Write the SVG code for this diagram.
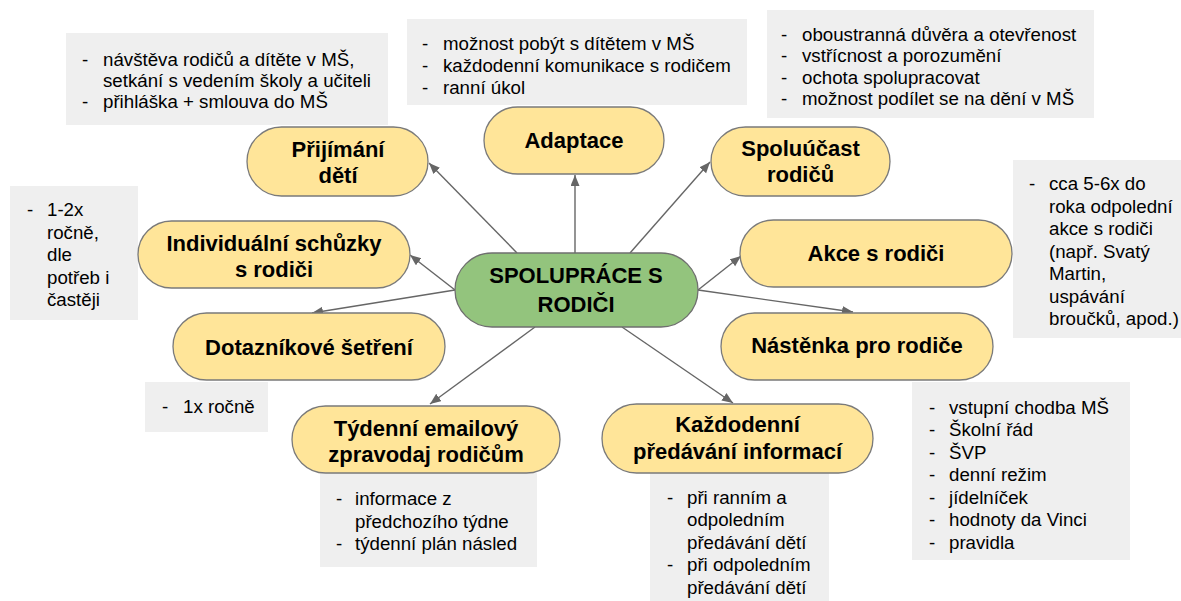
<svg xmlns="http://www.w3.org/2000/svg" width="1181" height="601" viewBox="0 0 1181 601">
<style>
.box{fill:#efefef;stroke:none}
.bt{font-family:"Liberation Sans",Arial,sans-serif;font-size:18.7px;fill:#000}
.node{fill:#ffe599;stroke:#7a7a7a;stroke-width:1.3}
.center{fill:#93c47d;stroke:#6f6f6f;stroke-width:1.3}
.nt{font-family:"Liberation Sans",Arial,sans-serif;font-size:22px;font-weight:bold;fill:#000;text-anchor:middle}
.conn line{stroke:#666;stroke-width:1.4;fill:none;marker-end:url(#arr)}
</style>
<defs>
<marker id="arr" markerUnits="userSpaceOnUse" markerWidth="12" markerHeight="10" refX="11" refY="4.5" orient="auto">
<path d="M0,0 L11,4.5 L0,9 z" fill="#666"/>
</marker>
</defs>
<rect width="1181" height="601" fill="#fff"/>

<g id="notes">
<g id="note-prijimani">
<rect class="box" x="66" y="33" width="322" height="92"/>
<text class="bt" x="82" y="66">-</text><text class="bt" x="103" y="66">návštěva rodičů a dítěte v MŠ,</text>
<text class="bt" x="103" y="87">setkání s vedením školy a učiteli</text>
<text class="bt" x="82" y="108">-</text><text class="bt" x="103" y="108">přihláška + smlouva do MŠ</text>
</g>
<g id="note-adaptace">
<rect class="box" x="407" y="19" width="340" height="86"/>
<text class="bt" x="422" y="49.5">-</text><text class="bt" x="443" y="49.5">možnost pobýt s dítětem v MŠ</text>
<text class="bt" x="422" y="71.8">-</text><text class="bt" x="443" y="71.8">každodenní komunikace s rodičem</text>
<text class="bt" x="422" y="94">-</text><text class="bt" x="443" y="94">ranní úkol</text>
</g>
<g id="note-spoluucast">
<rect class="box" x="767" y="10" width="327" height="108"/>
<text class="bt" x="781" y="40.5">-</text><text class="bt" x="802" y="40.5">oboustranná důvěra a otevřenost</text>
<text class="bt" x="781" y="62">-</text><text class="bt" x="802" y="62">vstřícnost a porozumění</text>
<text class="bt" x="781" y="83.5">-</text><text class="bt" x="802" y="83.5">ochota spolupracovat</text>
<text class="bt" x="781" y="105">-</text><text class="bt" x="802" y="105">možnost podílet se na dění v MŠ</text>
</g>
<g id="note-schuzky">
<rect class="box" x="10" y="186" width="128" height="134"/>
<text class="bt" x="27" y="216">-</text><text class="bt" x="47" y="216">1-2x</text>
<text class="bt" x="47" y="238.5">ročně,</text>
<text class="bt" x="47" y="261">dle</text>
<text class="bt" x="47" y="283.5">potřeb i</text>
<text class="bt" x="47" y="306">častěji</text>
</g>
<g id="note-dotaznik">
<rect class="box" x="145" y="382" width="123" height="50"/>
<text class="bt" x="162" y="412.5">-</text><text class="bt" x="183" y="412.5">1x ročně</text>
</g>
<g id="note-tydenni">
<rect class="box" x="320" y="473" width="217" height="94"/>
<text class="bt" x="336" y="505">-</text><text class="bt" x="355" y="505">informace z</text>
<text class="bt" x="355" y="527.5">předchozího týdne</text>
<text class="bt" x="336" y="550">-</text><text class="bt" x="355" y="550">týdenní plán násled</text>
</g>
<g id="note-kazdodenni">
<rect class="box" x="650" y="473" width="179" height="128"/>
<text class="bt" x="667" y="503.5">-</text><text class="bt" x="687" y="503.5">při ranním a</text>
<text class="bt" x="687" y="526">odpoledním</text>
<text class="bt" x="687" y="548.5">předávání dětí</text>
<text class="bt" x="667" y="571">-</text><text class="bt" x="687" y="571">při odpoledním</text>
<text class="bt" x="687" y="593.5">předávání dětí</text>
</g>
<g id="note-nastenka">
<rect class="box" x="912" y="382" width="218" height="178"/>
<text class="bt" x="929" y="413.5">-</text><text class="bt" x="949" y="413.5">vstupní chodba MŠ</text>
<text class="bt" x="929" y="436">-</text><text class="bt" x="949" y="436">Školní řád</text>
<text class="bt" x="929" y="458.5">-</text><text class="bt" x="949" y="458.5">ŠVP</text>
<text class="bt" x="929" y="481">-</text><text class="bt" x="949" y="481">denní režim</text>
<text class="bt" x="929" y="503.5">-</text><text class="bt" x="949" y="503.5">jídelníček</text>
<text class="bt" x="929" y="526">-</text><text class="bt" x="949" y="526">hodnoty da Vinci</text>
<text class="bt" x="929" y="548.5">-</text><text class="bt" x="949" y="548.5">pravidla</text>
</g>
<g id="note-akce">
<rect class="box" x="1013" y="160" width="168" height="178"/>
<text class="bt" x="1029" y="190">-</text><text class="bt" x="1049" y="190">cca 5-6x do</text>
<text class="bt" x="1049" y="212.5">roka odpolední</text>
<text class="bt" x="1049" y="235">akce s rodiči</text>
<text class="bt" x="1049" y="257.5">(např. Svatý</text>
<text class="bt" x="1049" y="280">Martin,</text>
<text class="bt" x="1049" y="302.5">uspávání</text>
<text class="bt" x="1049" y="325">broučků, apod.)</text>
</g>
</g>

<g id="connectors" class="conn">
<line x1="517" y1="253" x2="429" y2="163"/>
<line x1="575" y1="253" x2="575" y2="175"/>
<line x1="630" y1="253" x2="710" y2="162"/>
<line x1="455" y1="290" x2="410" y2="255"/>
<line x1="455" y1="290" x2="312" y2="313"/>
<line x1="698" y1="290" x2="741" y2="256"/>
<line x1="698" y1="290" x2="853" y2="312"/>
<line x1="535" y1="327" x2="430" y2="404"/>
<line x1="622" y1="327" x2="733" y2="403"/>
</g>

<g id="center">
<rect class="center" x="455" y="253" width="243" height="74" rx="37" ry="37"/>
<text class="nt" x="576" y="283.3">SPOLUPRÁCE S</text>
<text class="nt" x="576" y="311.7">RODIČI</text>
</g>
<g id="n-prijimani">
<rect class="node" x="247" y="127" width="181" height="69" rx="34.5" ry="34.5"/>
<text class="nt" x="338" y="156.7">Přijímání</text>
<text class="nt" x="338" y="182.7">dětí</text>
</g>
<g id="n-adaptace">
<rect class="node" x="484" y="107" width="180" height="67" rx="33.5" ry="33.5"/>
<text class="nt" x="574" y="148.3">Adaptace</text>
</g>
<g id="n-spoluucast">
<rect class="node" x="711" y="127" width="179" height="69" rx="34.5" ry="34.5"/>
<text class="nt" x="800.5" y="156">Spoluúčast</text>
<text class="nt" x="800.5" y="181.7">rodičů</text>
</g>
<g id="n-schuzky">
<rect class="node" x="138" y="221" width="272" height="67" rx="33.5" ry="33.5"/>
<text class="nt" x="274" y="250.7">Individuální schůzky</text>
<text class="nt" x="274" y="276.7">s rodiči</text>
</g>
<g id="n-dotaznik">
<rect class="node" x="173" y="313" width="272" height="67" rx="33.5" ry="33.5"/>
<text class="nt" x="309" y="355">Dotazníkové šetření</text>
</g>
<g id="n-akce">
<rect class="node" x="740" y="220" width="272" height="67" rx="33.5" ry="33.5"/>
<text class="nt" x="876" y="260.7">Akce s rodiči</text>
</g>
<g id="n-nastenka">
<rect class="node" x="721" y="313" width="272" height="67" rx="33.5" ry="33.5"/>
<text class="nt" x="857" y="353.3">Nástěnka pro rodiče</text>
</g>
<g id="n-tydenni">
<rect class="node" x="292" y="406" width="268" height="67" rx="33.5" ry="33.5"/>
<text class="nt" x="426" y="436">Týdenní emailový</text>
<text class="nt" x="426" y="461.7">zpravodaj rodičům</text>
</g>
<g id="n-kazdodenni">
<rect class="node" x="602" y="404" width="271" height="69" rx="34.5" ry="34.5"/>
<text class="nt" x="737.5" y="432.3">Každodenní</text>
<text class="nt" x="737.5" y="459.3">předávání informací</text>
</g>
</svg>
